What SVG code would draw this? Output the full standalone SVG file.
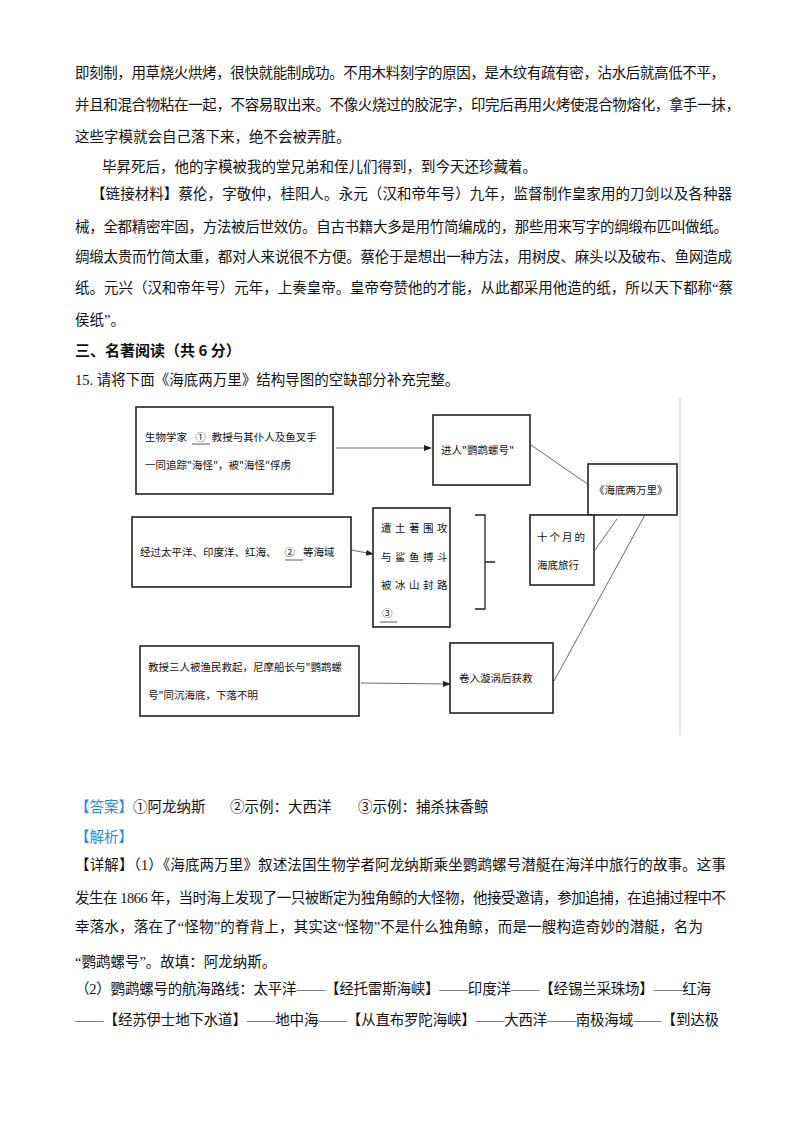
<svg xmlns="http://www.w3.org/2000/svg" width="800" height="1132" viewBox="0 0 800 1132">
<defs>
<style>
.t{font-family:"Liberation Serif","Noto Sans CJK SC",serif;font-size:14.5px;fill:#111}
.h{font-family:"Noto Sans CJK SC",sans-serif;font-size:15px;font-weight:bold;fill:#111}
.b{fill:#2a8ad8}
.d{font-family:"Noto Sans CJK SC",sans-serif;font-size:10.5px;fill:#111}
.box{fill:#fff;stroke:#222;stroke-width:1.6}
.ln{stroke:#444;stroke-width:0.8;fill:none}
.u{stroke:#333;stroke-width:0.8}
</style>
<marker id="ar" markerWidth="8" markerHeight="6" refX="7" refY="3" orient="auto" markerUnits="userSpaceOnUse"><path d="M0,0 L8,3 L0,6 Z" fill="#222"/></marker>
</defs>
<rect width="800" height="1132" fill="#fff"/>
<g id="text-top">
<text class="t" x="75" y="78" textLength="650" lengthAdjust="spacing">即刻制，用草烧火烘烤，很快就能制成功。不用木料刻字的原因，是木纹有疏有密，沾水后就高低不平，</text>
<text class="t" x="75" y="110" textLength="665" lengthAdjust="spacing">并且和混合物粘在一起，不容易取出来。不像火烧过的胶泥字，印完后再用火烤使混合物熔化，拿手一抹，</text>
<text class="t" x="75" y="142">这些字模就会自己落下来，绝不会被弄脏。</text>
<text class="t" x="102" y="172">毕昇死后，他的字模被我的堂兄弟和侄儿们得到，到今天还珍藏着。</text>
<text class="t" x="91" y="199" textLength="641" lengthAdjust="spacing">【链接材料】蔡伦，字敬仲，桂阳人。永元（汉和帝年号）九年，监督制作皇家用的刀剑以及各种器</text>
<text class="t" x="75" y="232" textLength="653" lengthAdjust="spacing">械，全都精密牢固，方法被后世效仿。自古书籍大多是用竹简编成的，那些用来写字的绸缎布匹叫做纸。</text>
<text class="t" x="75" y="262" textLength="657" lengthAdjust="spacing">绸缎太贵而竹简太重，都对人来说很不方便。蔡伦于是想出一种方法，用树皮、麻头以及破布、鱼网造成</text>
<text class="t" x="75" y="293" textLength="658" lengthAdjust="spacing">纸。元兴（汉和帝年号）元年，上奏皇帝。皇帝夸赞他的才能，从此都采用他造的纸，所以天下都称“蔡</text>
<text class="t" x="75" y="325">侯纸”。</text>
<text class="h" x="75" y="356">三、名著阅读（共 6 分）</text>
<text class="t" x="75" y="385">15. 请将下面《海底两万里》结构导图的空缺部分补充完整。</text>
</g>
<line x1="680" y1="398" x2="680" y2="735" stroke="#ddd" stroke-width="1.5"/>
<g id="connectors">
<line class="ln" x1="336" y1="448" x2="431" y2="448" marker-end="url(#ar)"/>
<line class="ln" x1="351" y1="550" x2="373" y2="554" marker-end="url(#ar)"/>
<line class="ln" x1="361" y1="683" x2="450" y2="684" marker-end="url(#ar)"/>
<line class="ln" x1="531" y1="445" x2="589" y2="485"/>
<line class="ln" x1="595" y1="550" x2="617" y2="519"/>
<line class="ln" x1="646" y1="513" x2="554" y2="681"/>
<path d="M475,515 H485 V609 H475 M485,562 H495" fill="none" stroke="#222" stroke-width="1.3"/>
</g>
<g id="n1"><rect class="box" x="136" y="407" width="197" height="87"/>
<text class="d" x="145" y="441">生物学家 <tspan dx="6">①</tspan><tspan dx="6">教授与其仆人及鱼叉手</tspan></text>
<line class="u" x1="192" y1="444" x2="210" y2="444"/>
<text class="d" x="145" y="469">一同追踪"海怪"，被"海怪"俘虏</text></g>
<g id="n2"><rect class="box" x="433" y="415" width="97" height="70"/><text class="d" x="441" y="454">进人"鹦鹉螺号"</text></g>
<g id="n3"><rect class="box" x="588" y="464" width="89" height="51"/><text class="d" x="594" y="494">《海底两万里》</text></g>
<g id="n4"><rect class="box" x="530" y="515" width="64" height="70"/>
<text class="d" x="537" y="541" letter-spacing="2">十个月的</text><text class="d" x="537" y="569">海底旅行</text></g>
<g id="n5"><rect class="box" x="132" y="517" width="219" height="70"/>
<text class="d" x="140" y="556">经过太平洋、印度洋、红海、<tspan dx="8">②</tspan><tspan dx="8">等海域</tspan></text>
<line class="u" x1="285" y1="560" x2="303" y2="560"/></g>
<g id="n6"><rect class="box" x="373" y="508" width="77" height="119"/>
<g class="d" letter-spacing="3.5"><text x="381" y="532">遭土著围攻</text><text x="381" y="561">与鲨鱼搏斗</text><text x="381" y="589">被冰山封路</text><text x="382" y="617">③</text></g>
<line class="u" x1="380" y1="622" x2="397" y2="622"/></g>
<g id="n7"><rect class="box" x="140" y="646" width="219" height="70"/>
<text class="d" x="148" y="671">教授三人被渔民救起，尼摩船长与"鹦鹉螺</text><text class="d" x="148" y="699">号"同沉海底，下落不明</text></g>
<g id="n8"><rect class="box" x="450" y="643" width="103" height="70"/><text class="d" x="459" y="682">卷入漩涡后获救</text></g>
<g id="text-bottom">
<text class="t" x="75" y="812"><tspan class="b">【答案】</tspan>①阿龙纳斯<tspan x="230">②示例：大西洋</tspan><tspan x="358">③示例：捕杀抹香鲸</tspan></text>
<text class="t b" x="75" y="842">【解析】</text>
<text class="t" x="75" y="870" textLength="651" lengthAdjust="spacing">【详解】（1）《海底两万里》叙述法国生物学者阿龙纳斯乘坐鹦鹉螺号潜艇在海洋中旅行的故事。这事</text>
<text class="t" x="75" y="903" textLength="651" lengthAdjust="spacing">发生在 1866 年，当时海上发现了一只被断定为独角鲸的大怪物，他接受邀请，参加追捕，在追捕过程中不</text>
<text class="t" x="75" y="932" textLength="628" lengthAdjust="spacing">幸落水，落在了“怪物”的脊背上，其实这“怪物”不是什么独角鲸，而是一艘构造奇妙的潜艇，名为</text>
<text class="t" x="75" y="967">“鹦鹉螺号”。故填：阿龙纳斯。</text>
<text class="t" x="75" y="994" textLength="636" lengthAdjust="spacing">（2）鹦鹉螺号的航海路线：太平洋——【经托雷斯海峡】——印度洋——【经锡兰采珠场】——红海</text>
<text class="t" x="75" y="1025" textLength="644" lengthAdjust="spacing">——【经苏伊士地下水道】——地中海——【从直布罗陀海峡】——大西洋——南极海域——【到达极</text>
</g>
</svg>
